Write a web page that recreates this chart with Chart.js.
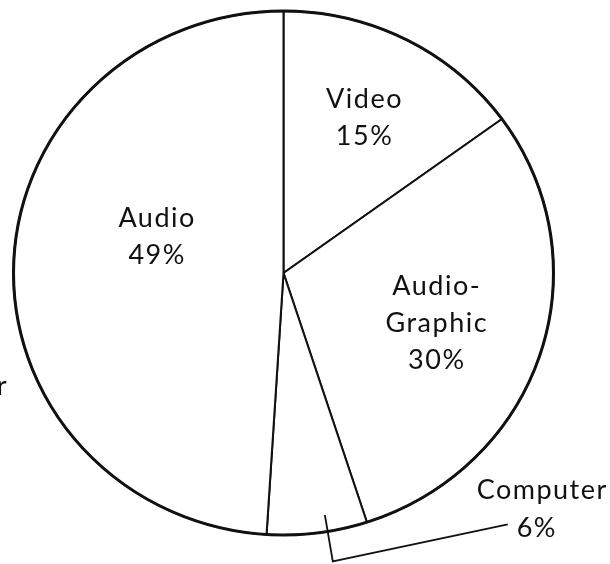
<!DOCTYPE html>
<html>
<head>
<meta charset="utf-8">
<script src="https://cdn.jsdelivr.net/npm/chart.js@4"></script>
<style>
  html, body { margin: 0; padding: 0; background: #fff; }
  #wrap { width: 610px; height: 564px; }
</style>
</head>
<body>
<div id="wrap"><canvas id="pieChart" width="610" height="564"></canvas></div>
<script>
// Datos del gráfico (sentido horario desde arriba)
const categorias = ['Video', 'Audio-Graphic', 'Computer', 'Audio'];
const porcentajes = [15, 30, 6, 49];
const etiquetas = [['Video', '15%'], ['Audio-', 'Graphic', '30%'], ['Computer', '6%'], ['Audio', '49%']];

// Ubicación de las etiquetas: desfase angular (grados) y fracción del radio
const ubicacion = [
  { delta: 0.5, frac: 0.66 },
  { delta: 0, frac: 0.606 },
  { delta: -2.5, frac: 1.10, fuera: true },
  { delta: 14.5, frac: 0.495 }
];

const fuente = '27px Lato, "DejaVu Sans", sans-serif';
// el círculo original es un poco más ancho que alto
const escalaX = 1.015, escalaY = 0.985;

const etiquetasPlugin = {
  id: 'etiquetas',
  beforeDatasetsDraw(chart) {
    const arc = chart.getDatasetMeta(0).data[0];
    const ctx = chart.ctx;
    ctx.save();
    ctx.translate(arc.x, arc.y);
    ctx.scale(escalaX, escalaY);
    ctx.translate(-arc.x, -arc.y);
  },
  afterDatasetsDraw(chart) {
    const ctx = chart.ctx;
    const arcs = chart.getDatasetMeta(0).data;
    const cx = arcs[0].x, cy = arcs[0].y, R = arcs[0].outerRadius;

    // contorno exterior más grueso
    ctx.beginPath();
    ctx.arc(cx, cy, R, 0, Math.PI * 2);
    ctx.lineWidth = 3;
    ctx.strokeStyle = '#111';
    ctx.stroke();
    ctx.restore();

    ctx.save();
    ctx.font = fuente;
    ctx.fillStyle = '#111';
    ctx.strokeStyle = '#111';
    ctx.letterSpacing = '1.5px';
    const lh = 37;
    arcs.forEach((arc, i) => {
      const mid = (arc.startAngle + arc.endAngle) / 2 + ubicacion[i].delta * Math.PI / 180;
      const px = cx + Math.cos(mid) * R * ubicacion[i].frac;
      const py = cy + Math.sin(mid) * R * ubicacion[i].frac;
      const lineas = etiquetas[i];
      if (ubicacion[i].fuera) {
        // línea guía hacia la etiqueta exterior
        const ix = cx + Math.cos(mid) * R * 0.923;
        const iy = cy + Math.sin(mid) * R * 0.923;
        const ex = px + 175, ey = py - 37;
        ctx.beginPath();
        ctx.moveTo(ix, iy);
        ctx.lineTo(px, py);
        ctx.lineTo(ex, ey);
        ctx.lineWidth = 1.8;
        ctx.stroke();
        ctx.textAlign = 'right';
        ctx.fillText(lineas[0], ex + 100, ey - 25);
        ctx.textAlign = 'center';
        ctx.fillText(lineas[1], ex + 29, ey + 13);
      } else {
        ctx.textAlign = 'center';
        ctx.textBaseline = 'alphabetic';
        const y0 = py - (lineas.length - 1) * lh / 2 + 9.5;
        lineas.forEach((t, k) => ctx.fillText(t, px, y0 + k * lh));
      }
    });

    // fragmento de texto cortado en el borde izquierdo
    ctx.textAlign = 'right';
    ctx.fillText('r', 8, 395);
    ctx.restore();
  }
};

const ctx = document.getElementById('pieChart').getContext('2d');
const pieChart = new Chart(ctx, {
  type: 'pie',
  data: {
    labels: categorias,
    datasets: [{
      data: porcentajes,
      backgroundColor: '#ffffff',
      borderColor: '#111111',
      borderWidth: 2,
      hoverOffset: 0
    }]
  },
  options: {
    responsive: false,
    animation: false,
    radius: 266,
    layout: { padding: { left: 0, right: 43, top: 0, bottom: 18 } },
    plugins: {
      legend: { display: false },
      tooltip: { enabled: false }
    },
    events: []
  },
  plugins: [etiquetasPlugin]
});
</script>
</body>
</html>
